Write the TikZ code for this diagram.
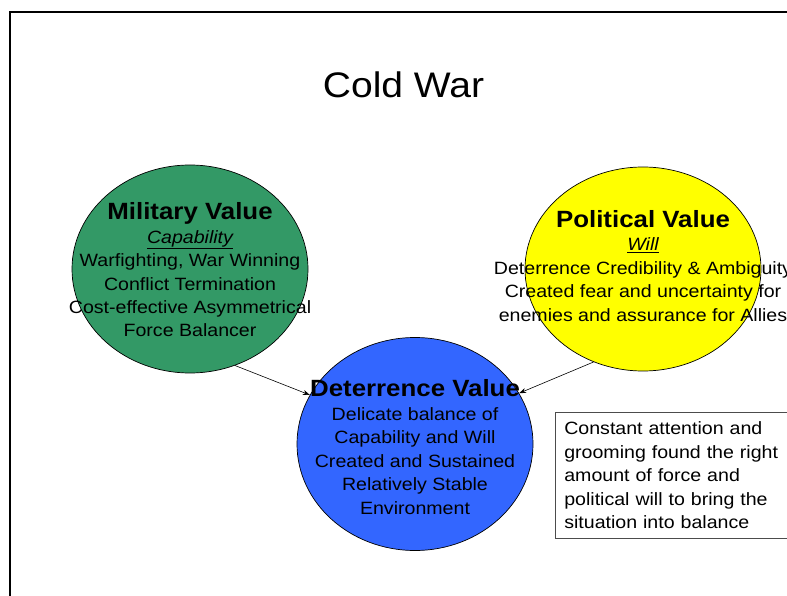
\documentclass[tikz,border=0pt]{standalone}
\usepackage{fontspec}
\setmainfont{Liberation Sans}[FakeStretch=1.1]
\usepackage{xcolor}
\usetikzlibrary{arrows.meta,shapes.geometric}
\definecolor{milgreen}{RGB}{51,153,102}
\definecolor{polyellow}{RGB}{255,255,0}
\definecolor{detblue}{RGB}{51,102,255}

\begin{document}
\begin{tikzpicture}[x=1pt,y=1pt,
	blob/.style={ellipse,draw=black,line width=0.7pt,minimum width=236pt,inner sep=0pt},
	head/.style={anchor=base,inner sep=0pt,font=\fontsize{23.5}{26}\selectfont\bfseries},
	body/.style={align=center,inner sep=0pt,font=\fontsize{17.8}{23.4}\selectfont},
	link/.style={-{Stealth[length=7pt,width=5pt]},line width=0.6pt}]
	\useasboundingbox (0,0) rectangle (787,595);
	\clip (0,0) rectangle (787,595);
	
	\draw[line width=2pt] (795,583) -- (10,583) -- (10,-5);
	
	\node[anchor=base,inner sep=0pt,font=\fontsize{35.5}{40}\selectfont] (title) at (403.5,497.3) {Cold War};
	
	\node[blob,fill=milgreen,minimum height=208pt] (mil) at (190,326) {};
	\node[blob,fill=polyellow,minimum height=204pt] (pol) at (643,326) {};
	\node[blob,fill=detblue,minimum height=213pt] (det) at (415,151) {};
	
	\node[head] (milhead) at (190,375.7) {Military Value};
	\node[body] (milbody) at (190,311.2) {\underline{\itshape Capability}\\ Warfighting, War Winning\\ Conflict Termination\\ Cost-effective Asymmetrical\\ Force Balancer};
	
	\node[head] (polhead) at (643,367.3) {Political Value};
	\node[body] (polbody) at (643,315.4) {\underline{\itshape Will}\\ Deterrence Credibility \& Ambiguity\\ Created fear and uncertainty for\\ enemies and assurance for Allies};
	
	\node[head] (dethead) at (415,199) {Deterrence Value};
	\node[body] (detbody) at (415,134) {Delicate balance of\\ Capability and Will\\ Created and Sustained\\ Relatively Stable\\ Environment};
	
	\node[draw=black!70,line width=0.6pt,anchor=north west,minimum height=126pt,text width=230pt,inner xsep=9pt,inner ysep=0pt,align=left,font=\fontsize{17.8}{23.4}\selectfont] (note) at (555,183) {Constant attention and\\ grooming found the right\\ amount of force and\\ political will to bring the\\ situation into balance};
	
	\draw[link] (mil.-65) -- (det.155);
	\draw[link] (pol.-118) -- (det.26);
\end{tikzpicture}
\end{document}
